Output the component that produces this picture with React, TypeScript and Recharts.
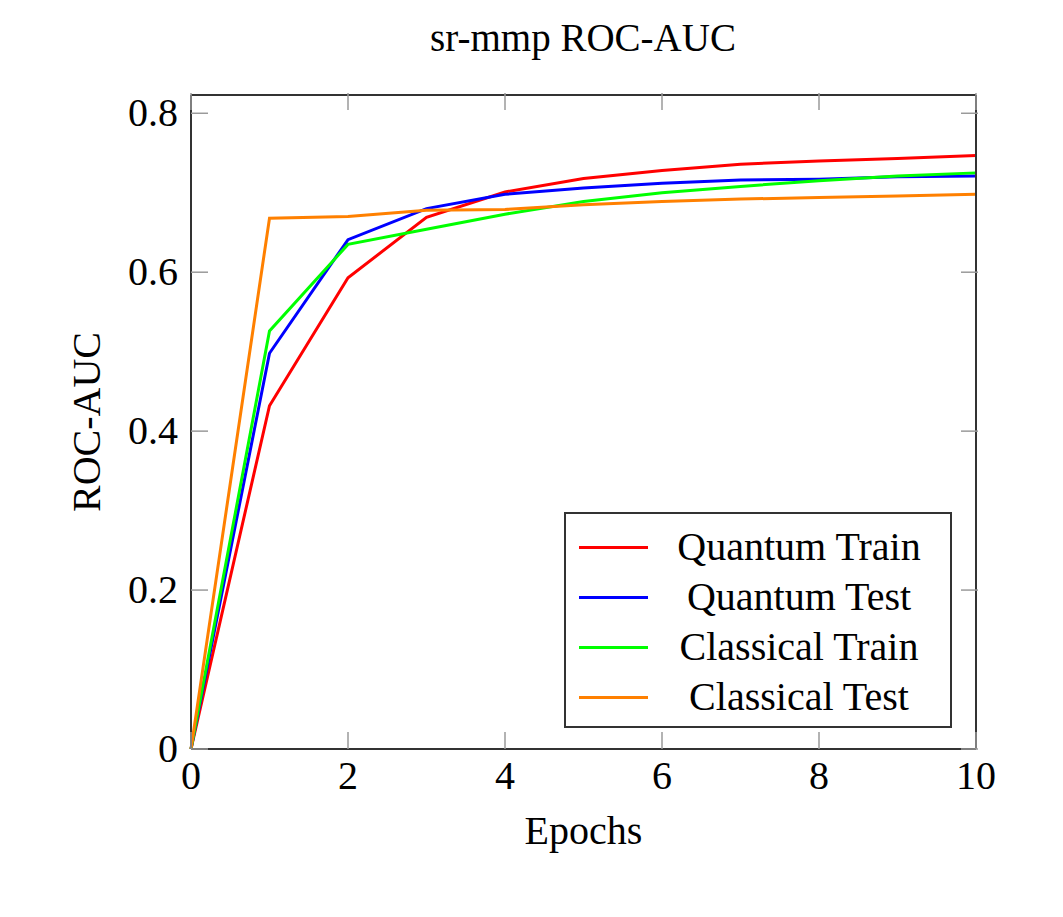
import React from "react";
import {
  LineChart,
  Line,
  XAxis,
  YAxis,
  Legend,
  Label,
} from "recharts";

// Epoch index on the x axis
const epochs = [0, 1, 2, 3, 4, 5, 6, 7, 8, 9, 10];

// ROC-AUC per epoch
const quantumTrain = [0, 0.432, 0.593, 0.669, 0.701, 0.718, 0.728, 0.736, 0.74, 0.743, 0.747];
const quantumTest = [0, 0.498, 0.641, 0.68, 0.698, 0.706, 0.712, 0.716, 0.717, 0.72, 0.721];
const classicalTrain = [0, 0.526, 0.635, 0.654, 0.673, 0.689, 0.7, 0.708, 0.715, 0.721, 0.725];
const classicalTest = [0, 0.668, 0.67, 0.678, 0.679, 0.685, 0.689, 0.692, 0.694, 0.696, 0.698];

const xTicks = [0, 2, 4, 6, 8, 10];
const yTicks = [0, 0.2, 0.4, 0.6, 0.8];

const seriesInfo = [
  { key: "quantumTrain", name: "Quantum Train", color: "#ff0000" },
  { key: "quantumTest", name: "Quantum Test", color: "#0000ff" },
  { key: "classicalTrain", name: "Classical Train", color: "#00ff00" },
  { key: "classicalTest", name: "Classical Test", color: "#ff8000" },
];

// build the rows recharts wants
const data = epochs.map((e, i) => ({
  epoch: e,
  quantumTrain: quantumTrain[i],
  quantumTest: quantumTest[i],
  classicalTrain: classicalTrain[i],
  classicalTest: classicalTest[i],
}));

const FONT = "'Liberation Serif', 'DejaVu Serif', serif";
const TICK_LEN = 17;
const TICK_COLOR = "#9a9a9a";

const fmtY = (v: number) => (v === 0 ? "0" : v.toFixed(1));

// bottom axis: inward tick + label below
const BottomTick = (props: any) => {
  const { x, y, payload } = props;
  return (
    <g>
      <line x1={x} y1={y} x2={x} y2={y - TICK_LEN} stroke={TICK_COLOR} strokeWidth={1.5} />
      <text x={x} y={y + 40} textAnchor="middle" fontFamily={FONT} fontSize={40} fill="#000">
        {payload.value}
      </text>
    </g>
  );
};

const TopTick = (props: any) => {
  const { x, y } = props;
  return <line x1={x} y1={y} x2={x} y2={y + TICK_LEN} stroke={TICK_COLOR} strokeWidth={1.5} />;
};

const LeftTick = (props: any) => {
  const { x, y, payload } = props;
  return (
    <g>
      <line x1={x} y1={y} x2={x + TICK_LEN} y2={y} stroke={TICK_COLOR} strokeWidth={1.5} />
      <text x={x - 13} y={y + 13} textAnchor="end" fontFamily={FONT} fontSize={40} fill="#000">
        {fmtY(payload.value)}
      </text>
    </g>
  );
};

const RightTick = (props: any) => {
  const { x, y } = props;
  return <line x1={x} y1={y} x2={x - TICK_LEN} y2={y} stroke={TICK_COLOR} strokeWidth={1.5} />;
};

// boxed legend in the lower right of the plot
const LegendBox = () => (
  <div
    style={{
      border: "2px solid #333",
      background: "#fff",
      width: 384,
      height: 204,
      paddingTop: 8,
      boxSizing: "content-box",
      fontFamily: FONT,
      fontSize: 40,
    }}
  >
    {seriesInfo.map((s) => (
      <div key={s.key} style={{ display: "flex", alignItems: "center", height: 50 }}>
        <div style={{ width: 69, height: 3, background: s.color, marginLeft: 13 }} />
        <div style={{ flex: 1, textAlign: "center", lineHeight: "50px" }}>{s.name}</div>
      </div>
    ))}
  </div>
);

const App: React.FC = () => {
  return (
    <div style={{ position: "relative", width: 1047, height: 900 }}>
      <div
        style={{
          position: "absolute",
          left: 0,
          width: 1150,
          top: 8,
          textAlign: "center",
          fontFamily: FONT,
          fontSize: 39,
          lineHeight: "44px",
        }}
      >
        sr-mmp ROC-AUC
      </div>
      <LineChart
        width={1047}
        height={900}
        data={data}
        margin={{ top: 86, right: 78, left: 0, bottom: 59 }}
      >
        <XAxis
          dataKey="epoch"
          type="number"
          domain={[0, 10]}
          ticks={xTicks}
          height={100}
          tickSize={0}
          tickMargin={0}
          tickLine={false}
          axisLine={{ stroke: "#333", strokeWidth: 2 }}
          tick={<BottomTick />}
        >
          <Label
            content={(p: any) => {
              const vb = p.viewBox;
              return (
                <text
                  x={vb.x + vb.width / 2}
                  y={vb.y + 95}
                  textAnchor="middle"
                  fontFamily={FONT}
                  fontSize={40}
                  fill="#000"
                >
                  Epochs
                </text>
              );
            }}
          />
        </XAxis>
        <XAxis
          xAxisId="top"
          orientation="top"
          dataKey="epoch"
          type="number"
          domain={[0, 10]}
          ticks={xTicks}
          height={1}
          tickSize={0}
          tickLine={false}
          axisLine={{ stroke: "#333", strokeWidth: 2 }}
          tick={<TopTick />}
        />
        <YAxis
          type="number"
          domain={[0, 0.823]}
          ticks={yTicks}
          width={183}
          tickSize={0}
          tickMargin={0}
          tickLine={false}
          allowDataOverflow
          axisLine={{ stroke: "#333", strokeWidth: 2 }}
          tick={<LeftTick />}
        >
          <Label
            content={(p: any) => {
              const vb = p.viewBox;
              const cx = 92;
              const cy = vb.y + vb.height / 2;
              return (
                <text
                  x={cx}
                  y={cy}
                  transform={`rotate(-90 ${cx} ${cy})`}
                  textAnchor="middle"
                  fontFamily={FONT}
                  fontSize={40}
                  fill="#000"
                >
                  ROC-AUC
                </text>
              );
            }}
          />
        </YAxis>
        <YAxis
          yAxisId="right"
          orientation="right"
          type="number"
          domain={[0, 0.823]}
          ticks={yTicks}
          width={1}
          tickSize={0}
          tickLine={false}
          allowDataOverflow
          axisLine={{ stroke: "#333", strokeWidth: 2 }}
          tick={<RightTick />}
        />
        {seriesInfo.map((s) => (
          <Line
            key={s.key}
            type="linear"
            dataKey={s.key}
            name={s.name}
            stroke={s.color}
            strokeWidth={3}
            dot={false}
            isAnimationActive={false}
          />
        ))}
        {/* invisible series so the mirrored top/right axes get drawn */}
        <Line
          xAxisId="top"
          yAxisId="right"
          dataKey="quantumTrain"
          stroke="none"
          dot={false}
          legendType="none"
          isAnimationActive={false}
        />
        <Legend
          layout="horizontal"
          align="center"
          verticalAlign="middle"
          content={<LegendBox />}
          wrapperStyle={{ position: "absolute", left: 556, top: 504, width: 388, height: 216 }}
        />
      </LineChart>
    </div>
  );
};

export default App;
